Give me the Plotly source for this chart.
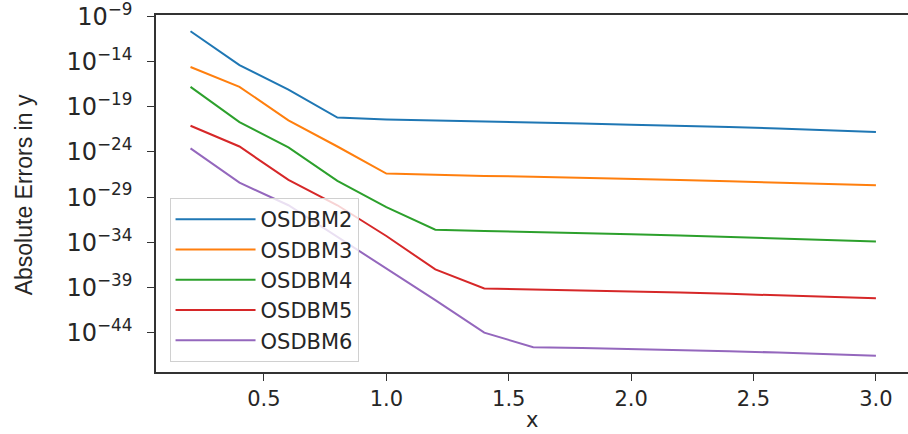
import plotly.graph_objects as go

x = [0.2, 0.4, 0.6, 0.8, 1.0, 1.2, 1.4, 1.6, 1.8, 2.0, 2.2, 2.4, 2.6, 2.8, 3.0]

log_osdbm2 = [-10.65, -14.4, -17.1, -20.2, -20.4, -20.5, -20.6, -20.7, -20.85, -21.0, -21.1, -21.25, -21.4, -21.6, -21.8]
log_osdbm3 = [-14.6, -16.8, -20.5, -23.4, -26.4, -26.55, -26.65, -26.75, -26.85, -27.0, -27.1, -27.25, -27.4, -27.55, -27.7]
log_osdbm4 = [-16.8, -20.7, -23.5, -27.2, -30.1, -32.6, -32.75, -32.85, -33.0, -33.1, -33.25, -33.4, -33.55, -33.7, -33.9]
log_osdbm5 = [-21.1, -23.4, -27.1, -29.9, -33.3, -37.0, -39.1, -39.2, -39.3, -39.45, -39.55, -39.7, -39.85, -40.0, -40.2]
log_osdbm6 = [-23.6, -27.4, -29.9, -33.4, -36.9, -40.4, -44.0, -45.6, -45.7, -45.8, -45.9, -46.05, -46.2, -46.35, -46.55]

names = ["OSDBM2", "OSDBM3", "OSDBM4", "OSDBM5", "OSDBM6"]
colors = ["#1f77b4", "#ff7f0e", "#2ca02c", "#d62728", "#9467bd"]
series = [log_osdbm2, log_osdbm3, log_osdbm4, log_osdbm5, log_osdbm6]

x_ticks = [0.5, 1.0, 1.5, 2.0, 2.5, 3.0]
y_tick_exps = [-9, -14, -19, -24, -29, -34, -39, -44]
x_title = "x"
y_title = "Absolute Errors in y"

fig = go.Figure()
for name, color, s in zip(names, colors, series):
    fig.add_trace(go.Scatter(
        x=x, y=[10 ** v for v in s], mode="lines", name=name,
        line=dict(color=color, width=2),
    ))

fig.update_layout(
    width=908, height=434,
    margin=dict(l=156, r=0, t=15, b=62),
    paper_bgcolor="white", plot_bgcolor="white",
    font=dict(family="DejaVu Sans", size=20, color="#262626"),
    showlegend=True,
    legend=dict(
        x=0.018, y=0.028, xanchor="left", yanchor="bottom",
        bgcolor="rgba(255,255,255,0.8)", bordercolor="#d0d0d0", borderwidth=1,
        font=dict(size=21, color="#262626"),
        tracegroupgap=0, itemwidth=80,
    ),
    annotations=[
        dict(text=x_title, xref="paper", yref="paper", x=0.5, y=-0.1695,
             xanchor="center", yanchor="bottom", showarrow=False, borderpad=0,
             font=dict(size=21, family="DejaVu Sans", color="#262626")),
        dict(text=y_title, xref="paper", yref="paper", x=-0.1755, y=0.495,
             xanchor="center", yanchor="middle", showarrow=False, textangle=-90,
             font=dict(size=23, family="Liberation Sans", color="#262626")),
    ],
)
fig.update_xaxes(
    range=[0.059, 3.131], tickvals=x_ticks, ticktext=[f"{v:.1f}" for v in x_ticks],
    showgrid=False, zeroline=False, showline=True, linecolor="#333", linewidth=1.5,
    mirror=True, ticks="outside", ticklen=7, tickcolor="#333",
    tickfont=dict(size=21), automargin=False,
)
fig.update_yaxes(
    type="log", range=[-48.35, -8.85],
    tickvals=[10 ** e for e in y_tick_exps],
    ticktext=[f"10<sup>\u2212{-e}</sup>" for e in y_tick_exps],
    showgrid=False, zeroline=False, showline=True, linecolor="#333", linewidth=1.5,
    mirror=True, ticks="outside", ticklen=7, tickcolor="#333",
    tickfont=dict(size=24), automargin=False, ticklabelstandoff=10,
    ticklabeloverflow="allow",
)

fig.write_html(
    "out.html",
    config={"displayModeBar": False},
    post_script="document.body.style.margin='0';document.body.style.overflow='hidden';",
)
